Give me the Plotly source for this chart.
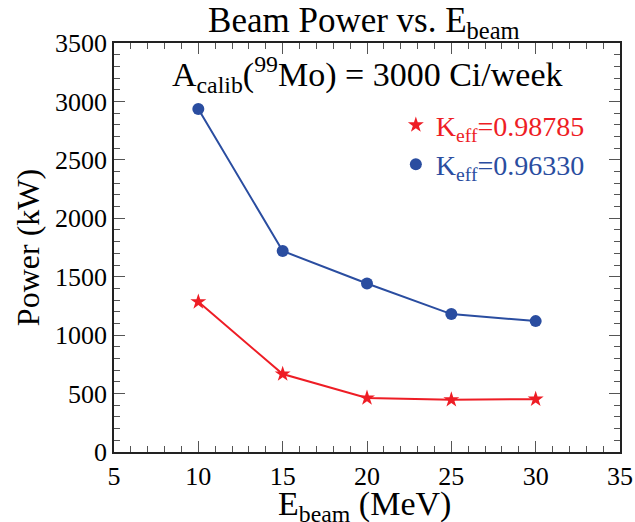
import plotly.graph_objects as go

energy = [10, 15, 20, 25, 30]
power_k98785 = [1285, 667, 462, 447, 452]
power_k96330 = [2935, 1720, 1442, 1180, 1120]

red = "#ee1d25"
blue = "#2a4da0"
font_family = "Liberation Serif, Times New Roman, serif"

fig = go.Figure()
fig.add_trace(go.Scatter(x=energy, y=power_k98785, mode="lines+markers",
                         line=dict(color=red, width=2),
                         marker=dict(symbol="star", size=12, color=red),
                         showlegend=False))
fig.add_trace(go.Scatter(x=energy, y=power_k96330, mode="lines+markers",
                         line=dict(color=blue, width=2),
                         marker=dict(symbol="circle", size=12, color=blue),
                         showlegend=False))
# legend entries (symbols only)
fig.add_trace(go.Scatter(x=[None], y=[None], mode="markers",
                         marker=dict(symbol="star", size=12, color=red),
                         name=f"<span style='color:{red}'>K<sub>eff</sub>=0.98785</span>"))
fig.add_trace(go.Scatter(x=[None], y=[None], mode="markers",
                         marker=dict(symbol="circle", size=12, color=blue),
                         name=f"<span style='color:{blue}'>K<sub>eff</sub>=0.96330</span>"))

axis_common = dict(
    showgrid=False, zeroline=False, showline=True, linecolor="#222", linewidth=1.5,
    mirror="allticks", ticks="inside", ticklen=11, tickwidth=1.2, tickcolor="#555",
    tickfont=dict(family=font_family, size=26, color="black"), automargin=False,
)

fig.update_xaxes(range=[5, 35], dtick=5, tick0=5,
                 minor=dict(dtick=1, ticks="inside", ticklen=6, tickcolor="#555", tickwidth=1.2),
                 **axis_common)
fig.update_yaxes(range=[0, 3500], dtick=500,
                 minor=dict(dtick=100, ticks="inside", ticklen=6, tickcolor="#555", tickwidth=1.2),
                 title=dict(text="Power (kW)", font=dict(family=font_family, size=32, color="black"), standoff=6),
                 **axis_common)

# x-axis title
fig.add_annotation(x=0.5, y=0, xref="paper", yref="paper", showarrow=False,
                   xanchor="center", yanchor="top", yshift=-31, xshift=-3,
                   text="E<sub>beam</sub> (MeV)",
                   font=dict(family=font_family, size=34, color="black"))

fig.add_annotation(x=0.5, y=0.985, xref="paper", yref="paper", showarrow=False,
                   text="A<sub>calib</sub>(<sup>99</sup>Mo) = 3000 Ci/week",
                   font=dict(family=font_family, size=34, color="black"))

fig.update_layout(
    width=635, height=522,
    margin=dict(l=114, r=15, t=43, b=70),
    paper_bgcolor="white", plot_bgcolor="white",
    title=dict(text="Beam Power vs. E<sub>beam</sub>", x=0.573, xanchor="center",
               y=0.962, yanchor="middle", yref="container",
               font=dict(family=font_family, size=35, color="black")),
    legend=dict(x=0.557, y=0.86, xanchor="left", yanchor="top",
                font=dict(family=font_family, size=28), bgcolor="rgba(0,0,0,0)",
                itemwidth=30, tracegroupgap=0),
)

fig.write_html("out.html")
